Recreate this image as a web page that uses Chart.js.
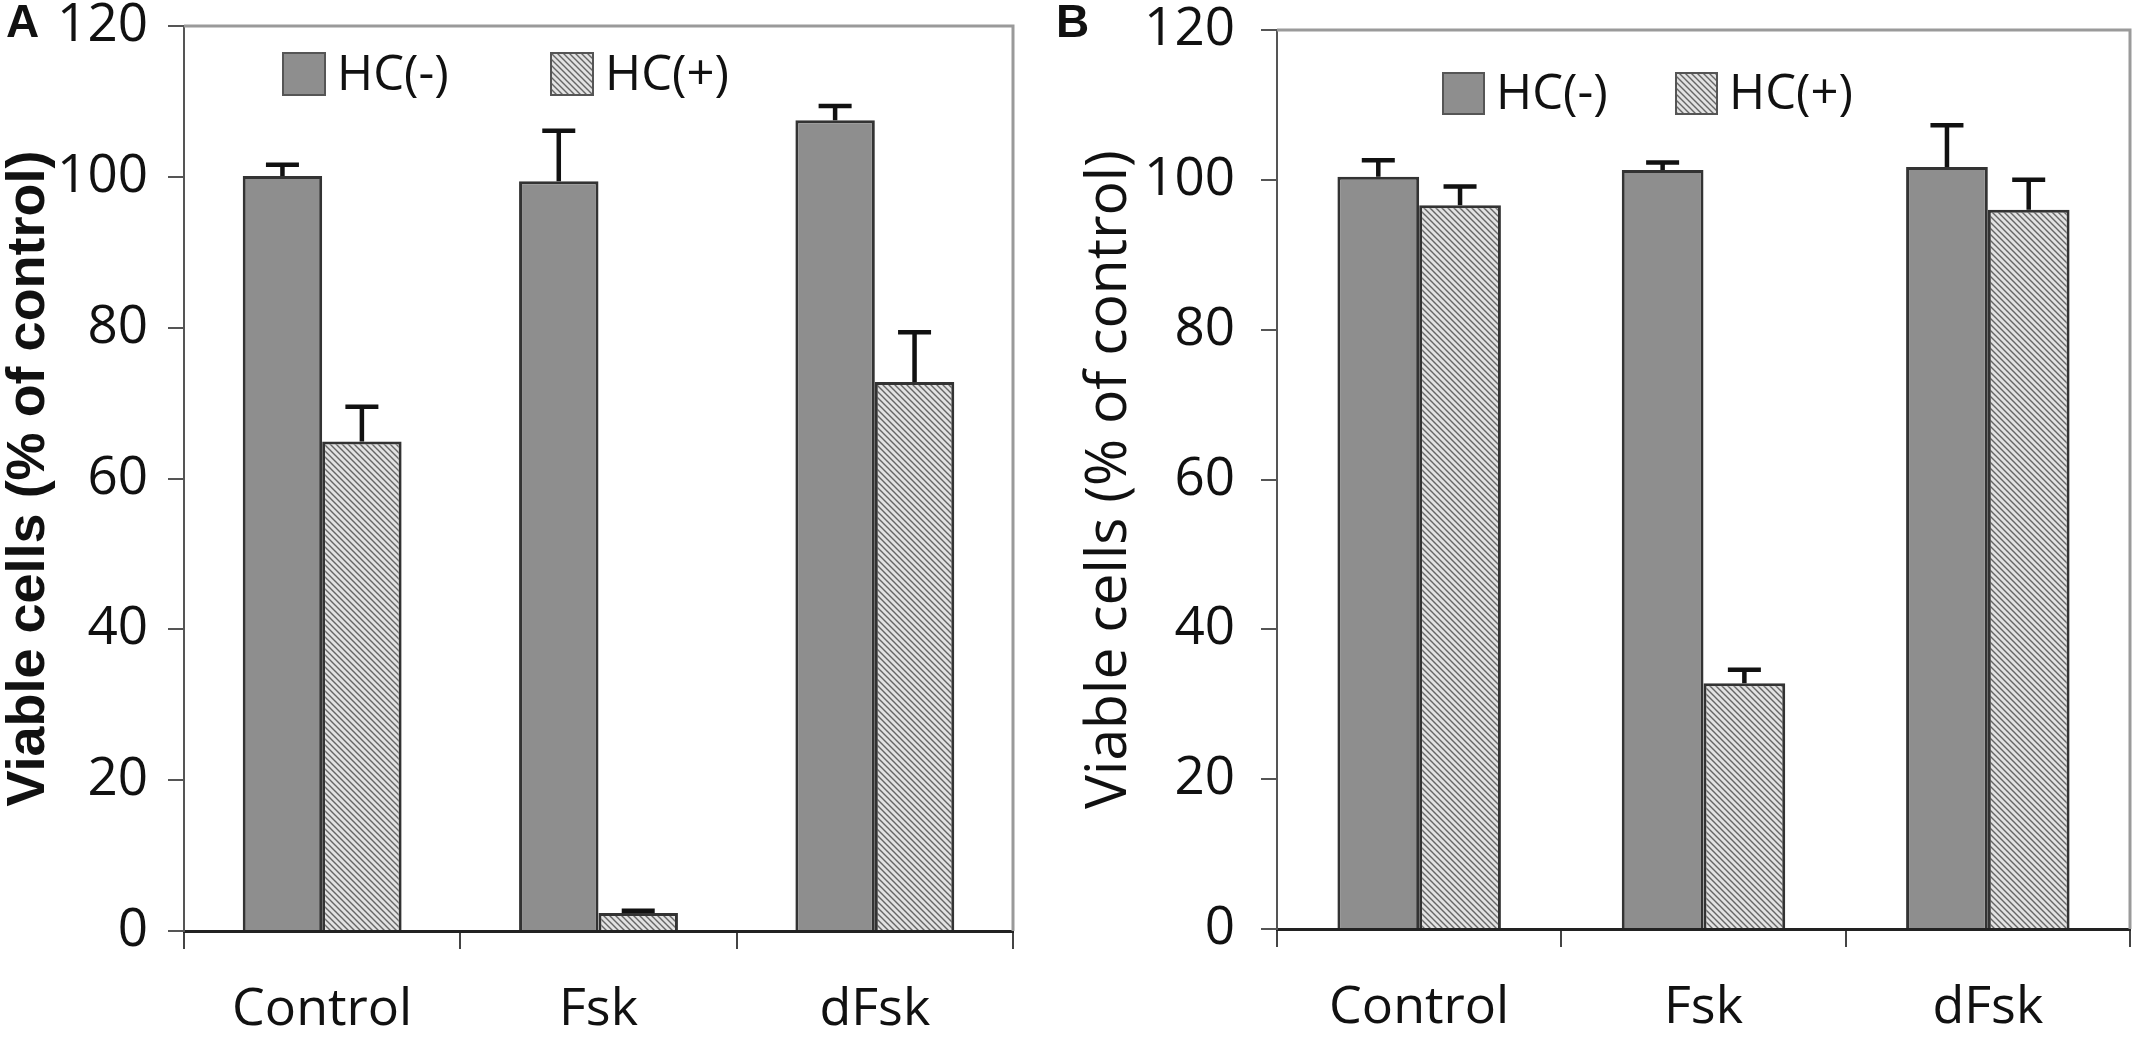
<!DOCTYPE html>
<html>
<head>
<meta charset="utf-8">
<script src="https://cdn.jsdelivr.net/npm/chart.js@4.4.1/dist/chart.umd.min.js"></script>
<style>
  html, body { margin: 0; padding: 0; background: #fff; }
  #wrap { position: relative; width: 2133px; height: 1037px; overflow: hidden; }
  .panel { position: absolute; top: 0; }
  .tag { position: absolute; font: bold 46px "Liberation Sans", Arial, sans-serif; line-height: 46px; color: #111; z-index: 2; }
</style>
</head>
<body>
<div id="wrap">
  <canvas id="chart-a" class="panel" width="1066" height="1037" style="left:0;width:1066px;height:1037px"></canvas>
  <canvas id="chart-b" class="panel" width="1067" height="1037" style="left:1066px;width:1067px;height:1037px"></canvas>
  <div class="tag" style="left:6px;top:-2px">A</div>
  <div class="tag" style="left:1056px;top:-2px">B</div>
</div>
<script>
// Categories and tick values
const categories = ["Control", "Fsk", "dFsk"];
const yTickValues = [0, 20, 40, 60, 80, 100, 120];
const seriesLabels = ["HC(-)", "HC(+)"];

// Panel A values (mean and upper SD)
const panelAHcMinus = [100.1, 99.4, 107.5];
const panelAHcMinusSd = [1.5, 6.7, 1.9];
const panelAHcPlus = [64.9, 2.4, 72.8];
const panelAHcPlusSd = [4.6, 0.3, 6.6];

// Panel B values (mean and upper SD)
const panelBHcMinus = [100.4, 101.3, 101.7];
const panelBHcMinusSd = [2.2, 1.0, 5.6];
const panelBHcPlus = [96.6, 32.8, 96.0];
const panelBHcPlusSd = [2.5, 1.8, 4.0];

const TEXT = "#111";

// Diagonal hatch used by HC(+) bars
function makeHatch(ctx) {
  const c = document.createElement("canvas");
  c.width = 6;
  c.height = 6;
  const g = c.getContext("2d");
  g.fillStyle = "#e2e2e2";
  g.fillRect(0, 0, 6, 6);
  g.strokeStyle = "#666";
  g.lineWidth = 1.4;
  g.beginPath();
  g.moveTo(-1, -1); g.lineTo(7, 7);
  g.moveTo(-1, 5); g.lineTo(1, 7);
  g.moveTo(5, -1); g.lineTo(7, 1);
  g.stroke();
  return ctx.createPattern(c, "repeat");
}

// Upper error whiskers
const errorBars = {
  id: "errorBars",
  afterDatasetsDraw(chart, args, opts) {
    const { ctx } = chart;
    const yScale = chart.scales.y;
    chart.data.datasets.forEach((ds, i) => {
      const meta = chart.getDatasetMeta(i);
      meta.data.forEach((bar, j) => {
        const top = yScale.getPixelForValue(ds.data[j] + ds.errors[j]);
        ctx.save();
        ctx.strokeStyle = "#111";
        ctx.lineWidth = opts.width;
        ctx.beginPath();
        ctx.moveTo(bar.x, bar.y);
        ctx.lineTo(bar.x, top);
        ctx.moveTo(bar.x - opts.cap / 2, top);
        ctx.lineTo(bar.x + opts.cap / 2, top);
        ctx.stroke();
        ctx.restore();
      });
    });
  },
};

// Gray frame on top and right of the plot
const plotFrame = {
  id: "plotFrame",
  beforeDatasetsDraw(chart) {
    const { ctx, chartArea: a } = chart;
    ctx.save();
    ctx.strokeStyle = "#9a9a9a";
    ctx.lineWidth = 3;
    ctx.beginPath();
    ctx.moveTo(a.left, a.top);
    ctx.lineTo(a.right, a.top);
    ctx.lineTo(a.right, a.bottom);
    ctx.stroke();
    ctx.restore();
  },
};

// Legend drawn inside the plot
const innerLegend = {
  id: "innerLegend",
  afterDraw(chart, args, opts) {
    const { ctx } = chart;
    chart.data.datasets.forEach((ds, i) => {
      const x = opts.x[i];
      ctx.save();
      ctx.fillStyle = ds.backgroundColor;
      ctx.fillRect(x, opts.y, opts.box, opts.box);
      ctx.strokeStyle = "#555";
      ctx.lineWidth = 2;
      ctx.strokeRect(x, opts.y, opts.box, opts.box);
      ctx.fillStyle = TEXT;
      ctx.font = '49px "Open Sans", sans-serif';
      ctx.textBaseline = "middle";
      ctx.fillText(ds.label, x + opts.box + 12, opts.y + opts.box / 2 + 2);
      ctx.restore();
    });
  },
};

function drawPanel(canvasId, hcMinus, hcMinusSd, hcPlus, hcPlusSd, look) {
  const ctx = document.getElementById(canvasId).getContext("2d");
  return new Chart(ctx, {
    type: "bar",
    data: {
      labels: categories,
      datasets: [
        {
          label: seriesLabels[0],
          data: hcMinus,
          errors: hcMinusSd,
          backgroundColor: "#8e8e8e",
          borderColor: "#333",
          borderWidth: 3,
        },
        {
          label: seriesLabels[1],
          data: hcPlus,
          errors: hcPlusSd,
          backgroundColor: makeHatch(ctx),
          borderColor: "#333",
          borderWidth: 3,
        },
      ],
    },
    options: {
      responsive: false,
      animation: false,
      devicePixelRatio: 1,
      categoryPercentage: 0.575,
      barPercentage: 1.0,
      layout: { padding: { top: look.top, right: look.right, left: 0, bottom: 0 } },
      plugins: {
        legend: { display: false },
        tooltip: { enabled: false },
        errorBars: { width: 4.5, cap: 33 },
        innerLegend: look.legend,
      },
      scales: {
        x: {
          grid: { offset: true, drawOnChartArea: false, drawTicks: true, tickLength: 18, color: "#444", lineWidth: 2 },
          border: { color: "#222", width: 3 },
          ticks: { color: TEXT, font: { family: "Open Sans", size: 52 }, padding: 30 },
          afterFit: (scale) => {
            scale.height = look.xHeight;
            scale.paddingLeft = 0;
            scale.paddingRight = 0;
          },
        },
        y: {
          min: yTickValues[0],
          max: yTickValues[yTickValues.length - 1],
          afterBuildTicks: (scale) => {
            scale.ticks = yTickValues.map((v) => ({ value: v }));
          },
          grid: { drawOnChartArea: false, drawTicks: true, tickLength: 16, color: "#555", lineWidth: 2 },
          border: { color: "#555", width: 2 },
          ticks: { color: TEXT, font: { family: "Open Sans", size: 53 }, padding: look.tickPad },
          title: {
            display: true,
            text: "Viable cells (% of control)",
            color: TEXT,
            font: look.titleFont,
            padding: { top: look.titlePad, bottom: 0 },
          },
          afterFit: (scale) => {
            scale.width = look.yWidth;
            scale.paddingTop = 0;
            scale.paddingBottom = 0;
          },
        },
      },
    },
    plugins: [plotFrame, errorBars, innerLegend],
  });
}

document.addEventListener("DOMContentLoaded", () => {
  // Panel A
  drawPanel("chart-a", panelAHcMinus, panelAHcMinusSd, panelAHcPlus, panelAHcPlusSd, {
    top: 26,
    right: 53,
    yWidth: 184,
    xHeight: 106,
    tickPad: 20,
    titlePad: 2,
    titleFont: { family: "Liberation Sans", size: 54, weight: "bold", lineHeight: 1 },
    legend: { x: [283, 551], y: 53, box: 42 },
  });

  // Panel B
  drawPanel("chart-b", panelBHcMinus, panelBHcMinusSd, panelBHcPlus, panelBHcPlusSd, {
    top: 30,
    right: 3,
    yWidth: 211,
    xHeight: 108,
    tickPad: 26,
    titlePad: 15,
    titleFont: { family: "Open Sans", size: 57, lineHeight: 1 },
    legend: { x: [377, 610], y: 73, box: 41 },
  });
});
</script>
</body>
</html>
